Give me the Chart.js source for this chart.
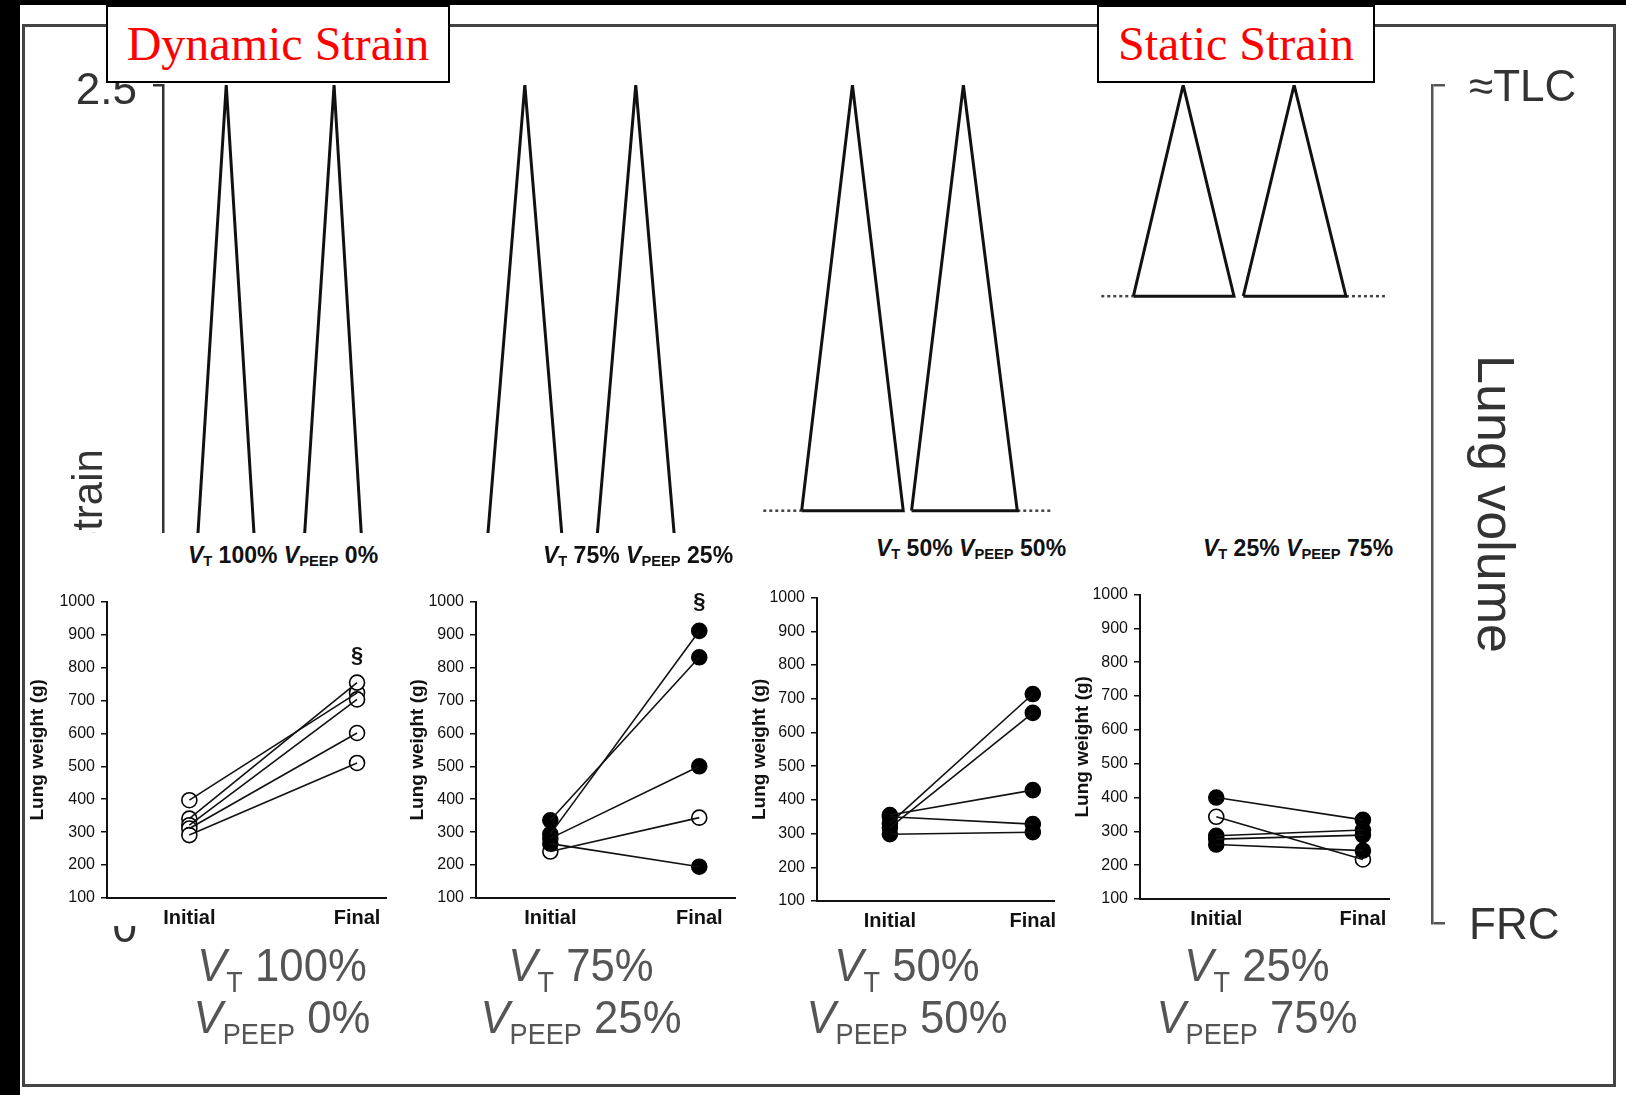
<!DOCTYPE html>
<html>
<head>
<meta charset="utf-8">
<script src="https://cdn.jsdelivr.net/npm/chart.js@4.4.1/dist/chart.umd.min.js"></script>
<style>
  html, body { margin: 0; padding: 0; background: #fff; }
  body { width: 1626px; height: 1095px; position: relative; overflow: hidden; font-family: "Liberation Sans", Arial, sans-serif; }
  .abs { position: absolute; }
  #blackLeft { left: 0; top: 0; width: 20px; height: 1095px; background: #000; }
  #blackTop { left: 0; top: 0; width: 1626px; height: 5px; background: #000; }
  #frame { left: 22px; top: 24px; width: 1588px; height: 1057px; border: 3px solid #444; }
  #main { left: 0; top: 0; }
  .panelBg { position: absolute; background: #fff; }
  .panelCv { position: absolute; }
  .tag { position: absolute; top: 5px; height: 74px; background: #fff; border: 2px solid #000;
         color: #f00; font: 48px "Liberation Serif", "Times New Roman", serif; line-height: 74px; text-align: center; white-space: nowrap; }
  .head { position: absolute; transform: translate(-50%, -50%); font: bold 23px "Liberation Sans", Arial, sans-serif;
          color: #111; white-space: nowrap; line-height: 1; }
  .head sub { font-size: 0.64em; vertical-align: -0.25em; line-height: 0; }
  .big { position: absolute; transform: translate(-50%, -50%) scale(0.93, 1); font: 47px "Liberation Sans", Arial, sans-serif;
         color: #555; white-space: nowrap; line-height: 1; }
  .big sub { font-size: 0.62em; vertical-align: -0.4em; line-height: 0; }
</style>
</head>
<body>
<div id="blackLeft" class="abs"></div>
<div id="blackTop" class="abs"></div>
<div id="frame" class="abs"></div>
<canvas id="main" class="abs" width="1626" height="1095"></canvas>
<div id="panels"></div>
<div class="tag" style="left:106px; width:340px;">Dynamic Strain</div>
<div class="tag" style="left:1097px; width:274px;">Static Strain</div>
<script>
// top waveforms: time (arbitrary units) vs strain
const strainTicks = [0, 2.5];
const peakStrain = 2.5;
const baseStrain = [0, 0.62, 1.23, 1.87];
const breaths = [
    [[1.0, 6.1, 11.1], [11.2, 16.5, 21.4]],
    [[29.9, 34.9, 39.9], [40.4, 45.6, 50.8]],
    [[61.6, 66.5, 71.4], [72.2, 77.2, 82.4]],
    [[93.6, 98.4, 103.3], [104.2, 109.1, 114.1]]
];
const closedBase = [false, false, true, true];
const dottedBase = [[], [], [[57.9, 61.6], [82.4, 85.8]], [[90.5, 93.6], [114.1, 117.9]]];
const volumeTicks = ['FRC', '≈TLC'];

// lung weight panels
const phases = ['Initial', 'Final'];
const weightTicks = [100, 200, 300, 400, 500, 600, 700, 800, 900, 1000];
const p1Initial = [397, 341, 321, 311, 291];
const p1Final = [723, 754, 703, 601, 510];
const p1Open = [1, 1, 1, 1, 1];
const p2Initial = [294, 336, 281, 241, 265];
const p2Final = [911, 831, 500, 344, 195];
const p2Open = [0, 0, 0, 1, 0];
const p3Initial = [355, 350, 330, 318, 298];
const p3Final = [429, 328, 714, 658, 304];
const p3Open = [0, 0, 0, 0, 0];
const p4Initial = [400, 343, 287, 277, 261];
const p4Final = [334, 217, 304, 289, 243];
const p4Open = [0, 1, 0, 0, 0];
const sectionMark = [834, 1000, null, null];
const vtLabels = ['100%', '75%', '50%', '25%'];
const peepLabels = ['0%', '25%', '50%', '75%'];

const FONT = '"Liberation Sans", Arial, sans-serif';

// layout of the four small charts
const panelBoxes = [
    { axisX: 107, top: 600, bottom: 898, right: 396, titleX: 38, xMin: -0.491, xMax: 1.178, bg: [27, 533, 396, 926], head: [283, 555] },
    { axisX: 476, top: 600, bottom: 898, right: 745, titleX: 418, xMin: -0.499, xMax: 1.246, bg: [402, 533, 750, 926], head: [638, 555] },
    { axisX: 817, top: 596, bottom: 901, right: 1065, titleX: 760, xMin: -0.51, xMax: 1.154, bg: [748, 520, 1075, 921], head: [971, 548] },
    { axisX: 1140, top: 593, bottom: 899, right: 1399, titleX: 1083, xMin: -0.52, xMax: 1.184, bg: [1068, 520, 1405, 921], head: [1298, 548] }
];
const bigLabelX = [282, 581, 907, 1257];

// ---- main waveform chart ----
const waveSets = [];
breaths.forEach((panel, k) => {
    const b = baseStrain[k];
    panel.forEach(([l, p, r]) => {
        const pts = [{ x: l, y: b }, { x: p, y: peakStrain }, { x: r, y: b }];
        if (closedBase[k]) pts.push({ x: l, y: b });
        waveSets.push({
            data: pts,
            borderColor: '#111', borderWidth: 3, borderJoinStyle: 'miter', pointRadius: 0, yAxisID: 'y'
        });
    });
    dottedBase[k].forEach(([a, c]) => {
        waveSets.push({
            data: [{ x: a, y: b }, { x: c, y: b }],
            borderColor: '#444', borderWidth: 2.5, borderDash: [3, 3], pointRadius: 0, yAxisID: 'y'
        });
    });
});

new Chart(document.getElementById('main'), {
    type: 'line',
    data: { datasets: waveSets },
    options: {
        responsive: false,
        animation: false,
        layout: { padding: { top: 85, bottom: 172, left: 0, right: 0 } },
        plugins: { legend: { display: false }, tooltip: { enabled: false } },
        elements: { line: { tension: 0 } },
        scales: {
            x: { type: 'linear', display: false, min: 0, max: 122.4 },
            y: {
                type: 'linear', position: 'left', min: 0, max: 2.5,
                afterBuildTicks: s => { s.ticks = strainTicks.map(v => ({ value: v })); },
                afterFit: s => { s.width = 163; },
                ticks: { font: { size: 44, family: FONT }, color: '#333', padding: 16, labelOffset: 7, callback: v => String(v) },
                grid: { drawOnChartArea: false, tickLength: 10, color: '#333', lineWidth: 2.5 },
                border: { color: '#333', width: 2.5 },
                title: { display: true, text: 'Strain', font: { size: 42, family: FONT }, color: '#333', padding: { top: 65, bottom: 0 } }
            },
            y2: {
                type: 'linear', position: 'right', min: 0, max: 1,
                afterBuildTicks: s => { s.ticks = [{ value: 0 }, { value: 1 }]; },
                afterFit: s => { s.width = 194; },
                ticks: { font: { size: 44, family: FONT }, color: '#333', padding: 24, labelOffset: 4, callback: v => volumeTicks[v] },
                grid: { drawOnChartArea: false, tickLength: 13, color: '#555', lineWidth: 2.5 },
                border: { color: '#555', width: 2.5 },
                title: { display: true, text: 'Lung volume', font: { size: 52, family: FONT }, color: '#333', padding: { top: 102, bottom: 0 } }
            }
        }
    }
});

// ---- small lung weight charts ----
const sectionPlugin = {
    id: 'section',
    afterDatasetsDraw(chart, args, opts) {
        if (opts.value == null) return;
        const { ctx, scales: { x, y } } = chart;
        ctx.save();
        ctx.font = 'bold 22px ' + FONT;
        ctx.fillStyle = '#111';
        ctx.textAlign = 'center';
        ctx.textBaseline = 'middle';
        ctx.fillText('§', x.getPixelForValue(1), y.getPixelForValue(opts.value));
        ctx.restore();
    }
};

const panels = [
    { initial: p1Initial, final: p1Final, open: p1Open },
    { initial: p2Initial, final: p2Final, open: p2Open },
    { initial: p3Initial, final: p3Final, open: p3Open },
    { initial: p4Initial, final: p4Final, open: p4Open }
];

const holder = document.getElementById('panels');
panels.forEach((p, k) => {
    const box = panelBoxes[k];

    const bg = document.createElement('div');
    bg.className = 'panelBg';
    bg.style.left = box.bg[0] + 'px';
    bg.style.top = box.bg[1] + 'px';
    bg.style.width = (box.bg[2] - box.bg[0]) + 'px';
    bg.style.height = (box.bg[3] - box.bg[1]) + 'px';
    holder.appendChild(bg);

    const head = document.createElement('div');
    head.className = 'head';
    head.style.left = box.head[0] + 'px';
    head.style.top = box.head[1] + 'px';
    head.innerHTML = '<i>V</i><sub>T</sub> ' + vtLabels[k] + ' <i>V</i><sub>PEEP</sub> ' + peepLabels[k];
    holder.appendChild(head);

    const padTop = 14, axisH = 40, axisW = 95;
    const left = box.axisX - axisW, top = box.top - padTop;
    const cv = document.createElement('canvas');
    cv.className = 'panelCv';
    cv.width = box.right - left;
    cv.height = box.bottom - box.top + padTop + axisH;
    cv.style.left = left + 'px';
    cv.style.top = top + 'px';
    holder.appendChild(cv);

    const sets = p.initial.map((v, i) => ({
        data: [{ x: 0, y: v }, { x: 1, y: p.final[i] }],
        borderColor: '#111', borderWidth: 1.6, pointRadius: 0
    }));
    const pts = [], fills = [];
    p.initial.forEach((v, i) => { pts.push({ x: 0, y: v }); fills.push(p.open[i] ? '#fff' : '#000'); });
    p.final.forEach((v, i) => { pts.push({ x: 1, y: v }); fills.push(p.open[i] ? '#fff' : '#000'); });
    sets.push({
        data: pts, showLine: false, pointRadius: 7.5,
        pointBackgroundColor: fills, pointBorderColor: '#000', pointBorderWidth: 1.6
    });

    const titleLH = 19 * 1.2;
    new Chart(cv, {
        type: 'line',
        data: { datasets: sets },
        options: {
            responsive: false,
            animation: false,
            layout: { padding: { top: padTop, right: 0, left: 0, bottom: 0 } },
            plugins: { legend: { display: false }, tooltip: { enabled: false }, section: { value: sectionMark[k] } },
            elements: { line: { tension: 0 } },
            scales: {
                x: {
                    type: 'linear', min: box.xMin, max: box.xMax,
                    afterBuildTicks: s => { s.ticks = [{ value: 0 }, { value: 1 }]; },
                    afterFit: s => { s.height = axisH; },
                    ticks: { font: { size: 20, weight: 'bold', family: FONT }, color: '#111', padding: 8,
                             callback: v => phases[v], maxRotation: 0 },
                    grid: { display: false, drawTicks: false },
                    border: { display: true, color: '#111', width: 2 }
                },
                y: {
                    type: 'linear', min: 100, max: 1000,
                    afterBuildTicks: s => { s.ticks = weightTicks.map(v => ({ value: v })); },
                    afterFit: s => { s.width = axisW; },
                    ticks: { font: { size: 16, family: FONT }, color: '#111', padding: 6, callback: v => String(v) },
                    grid: { drawOnChartArea: false, tickLength: 6, color: '#111', lineWidth: 1.5 },
                    border: { color: '#111', width: 2 },
                    title: { display: true, text: 'Lung weight (g)', font: { size: 19, weight: 'bold', family: FONT },
                             color: '#111', padding: { top: box.titleX - left - titleLH / 2, bottom: 0 } }
                }
            }
        },
        plugins: [sectionPlugin]
    });

    const l1 = document.createElement('div');
    l1.className = 'big';
    l1.style.left = bigLabelX[k] + 'px';
    l1.style.top = '964px';
    l1.innerHTML = '<i>V</i><sub>T</sub> ' + vtLabels[k];
    holder.appendChild(l1);

    const l2 = document.createElement('div');
    l2.className = 'big';
    l2.style.left = bigLabelX[k] + 'px';
    l2.style.top = '1016px';
    l2.innerHTML = '<i>V</i><sub>PEEP</sub> ' + peepLabels[k];
    holder.appendChild(l2);
});
</script>
</body>
</html>
